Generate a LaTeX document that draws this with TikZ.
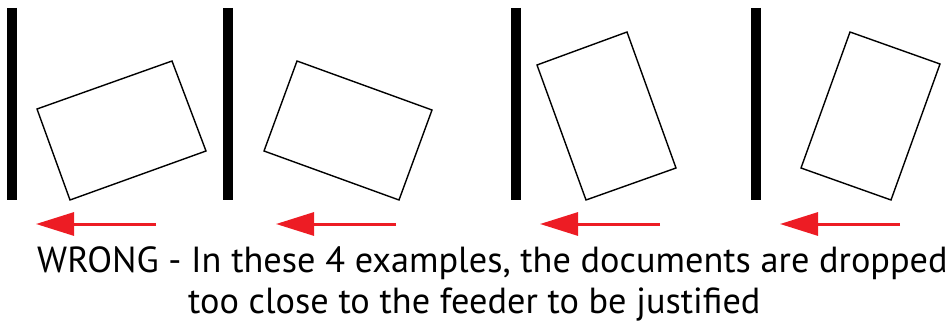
\documentclass[tikz,border=0pt]{standalone}
\usepackage{fontspec}
\setmainfont{PT Sans}
\usetikzlibrary{arrows.meta}
\definecolor{arrowred}{HTML}{ED1C24}

\begin{document}
\begin{tikzpicture}[
    x=1pt, y=-1pt,
    feeder/.style={line width=10pt},
    doc/.style={draw, line width=1.4pt, line join=miter},
    push/.style={-{Triangle[length=38pt, width=23pt]}, arrowarred, line width=3pt},
    arrowarred/.style={draw=arrowred, color=arrowred},
    caption/.style={anchor=base west, inner sep=0pt, font=\fontsize{36.3}{40}\selectfont},
  ]
  \useasboundingbox (0,0) rectangle (948,326);
  % feeder walls
  \draw[feeder] (12,8) -- (12,200);
  \draw[feeder] (228,8) -- (228,200);
  \draw[feeder] (516,8) -- (516,200);
  \draw[feeder] (756,8) -- (756,200);
  % documents
  \draw[doc] (37,109) -- (172,61) -- (206,151) -- (70,200) -- cycle;
  \draw[doc] (297,61) -- (432,110) -- (399,200) -- (264,151) -- cycle;
  \draw[doc] (537,65) -- (627,32) -- (676,168) -- (586,200) -- cycle;
  \draw[doc] (850,32) -- (940,64) -- (891,200) -- (801,168) -- cycle;
  % feed direction
  \coordinate (a1) at (156,224); \coordinate (t1) at (36,224);
  \coordinate (a2) at (396,224); \coordinate (t2) at (276,224);
  \coordinate (a3) at (660,224); \coordinate (t3) at (540,224);
  \coordinate (a4) at (900,224); \coordinate (t4) at (780,224);
  \draw[push] (a1) -- (t1);
  \draw[push] (a2) -- (t2);
  \draw[push] (a3) -- (t3);
  \draw[push] (a4) -- (t4);
  \node[caption] (line1) at (37,272) {WRONG - In these 4 examples, the documents are dropped};
  \node[caption] (line2) at (188,313) {too close to the feeder to be justified};
\end{tikzpicture}
\end{document}
